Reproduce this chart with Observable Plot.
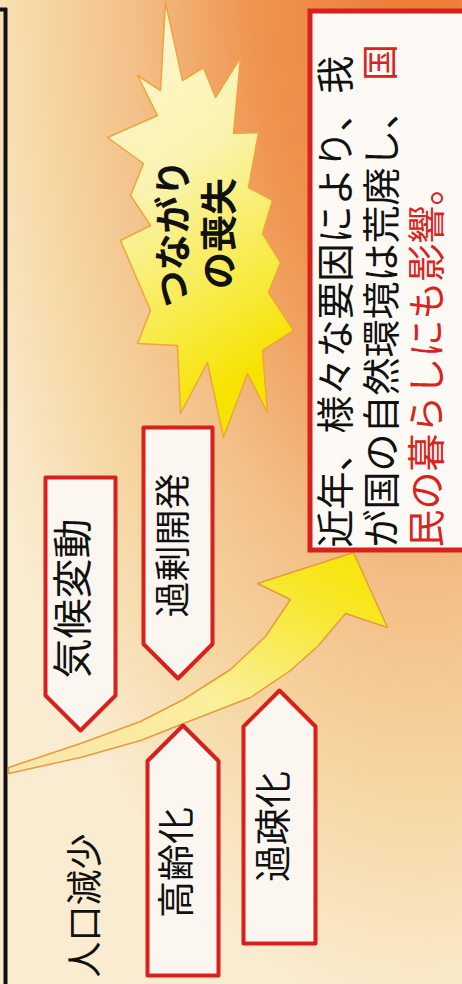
<!DOCTYPE html>
<html><head><meta charset="utf-8">
<script src="https://cdn.jsdelivr.net/npm/d3@7"></script>
<script src="https://cdn.jsdelivr.net/npm/@observablehq/plot@0.6"></script>
<style>html,body{margin:0;padding:0;background:#f8e3b8;overflow:hidden}</style>
</head><body><div id="chart"></div>
<script>
// ---- content ----
const mainLines = ["近年、様々な要因により、我", "が国の自然環境は荒廃し、", "民の暮らしにも影響。"];
const highlightChar = "国";
const burstLabels = ["つながり", "の喪失"];
const causeLabels = ["気候変動", "過剰開発", "高齢化", "過疎化"];
const plainLabel = "人口減少";

// ---- layout (pixel scale) ----
const mainLayout = [
  {x: 336, y: 547, color: "#111"},
  {x: 382, y: 547, color: "#111"},
  {x: 427, y: 547, color: "#d9231d"}
];
const causeBoxes = [
  {label: causeLabels[0], x0: 45, x1: 115, top: 477, bottom: 730, dir: "down", tx: 74, ty: 598, fs: 40},
  {label: causeLabels[1], x0: 143, x1: 212, top: 427, bottom: 678, dir: "down", tx: 174, ty: 545, fs: 36},
  {label: causeLabels[2], x0: 147, x1: 218, top: 725, bottom: 975, dir: "up", tx: 178, ty: 862, fs: 37},
  {label: causeLabels[3], x0: 243, x1: 315, top: 690, bottom: 943, dir: "up", tx: 275, ty: 826, fs: 37}
];
const burstPts = [[165,2],[182,80],[203,67],[215,97],[240,57],[233,133],[258,132],[248,187],[272,200],[262,233],[280,262],[268,292],[293,330],[262,350],[267,412],[247,373],[223,437],[207,362],[180,413],[177,345],[137,343],[150,310],[120,240],[150,225],[130,195],[143,163],[107,137],[157,115],[137,75],[160,90]];
const arrowPts = [[8,767],[80,743],[140,721],[183,699],[230,669],[265,636],[290,599],[257,583],[353,552],[387,627],[345,613],[318,645],[290,670],[250,697],[183,723],[140,740],[80,757],[8,773]];

function pentagon(b) {
  const c = (b.x0 + b.x1) / 2, h = (b.x1 - b.x0) / 2;
  if (b.dir === "down") return [[b.x0,b.top],[b.x1,b.top],[b.x1,b.bottom-h],[c,b.bottom],[b.x0,b.bottom-h]];
  return [[c,b.top],[b.x1,b.top+h],[b.x1,b.bottom],[b.x0,b.bottom],[b.x0,b.top+h]];
}
const boxPts = causeBoxes.flatMap((b, i) => pentagon(b).map(([x, y]) => ({x, y, z: i})));
const toRows = (pts, z) => pts.map(([x, y]) => ({x, y, z}));

const font = "'Noto Sans CJK JP', 'Noto Sans', sans-serif";

const plot = Plot.plot({
  width: 462, height: 984,
  margin: 0,
  x: {type: "identity", axis: null},
  y: {type: "identity", axis: null},
  style: {background: "transparent", fontFamily: font},
  marks: [
    Plot.rect([{x1: 0, x2: 462, y1: 0, y2: 984}], {x1: "x1", x2: "x2", y1: "y1", y2: "y2", fill: "url(#bg)"}),
    Plot.ruleX([5], {y1: 8, y2: 984, stroke: "#111", strokeWidth: 4}),
    Plot.ruleY([9], {x1: 0, x2: 7, stroke: "#111", strokeWidth: 4}),
    Plot.line(toRows(burstPts, 0), {x: "x", y: "y", z: "z", curve: "linear-closed", fill: "url(#burst)", stroke: "#f0a43c", strokeWidth: 1.5}),
    Plot.line(toRows(arrowPts, 0), {x: "x", y: "y", z: "z", curve: "linear-closed", fill: "url(#arrow)", stroke: "#e99a3a", strokeWidth: 1.5}),
    Plot.line(boxPts, {x: "x", y: "y", z: "z", curve: "linear-closed", fill: "#fbf6f0", stroke: "#d8201c", strokeWidth: 4}),
    Plot.rect([{x1: 310, x2: 475, y1: 11, y2: 550}], {x1: "x1", x2: "x2", y1: "y1", y2: "y2", fill: "#fdfaf6", stroke: "#d8201c", strokeWidth: 5}),
    Plot.text(causeBoxes, {x: "tx", y: "ty", text: "label", rotate: -90, fontSize: d => d.fs, fill: "#111", textAnchor: "middle", lineAnchor: "middle", fontFamily: font}),
    Plot.text([plainLabel], {x: 86, y: 905, text: d => d, rotate: -90, fontSize: 36, fill: "#111", textAnchor: "middle", lineAnchor: "middle", fontFamily: font}),
    Plot.text(burstLabels.map((t, i) => ({t, x: [175, 221][i], y: 233})), {x: "x", y: "y", text: "t", rotate: -90, fontSize: 37, fontWeight: "bold", fill: "#111", textAnchor: "middle", lineAnchor: "middle", fontFamily: font}),
    Plot.text(mainLines.map((t, i) => ({t, ...mainLayout[i]})), {x: "x", y: "y", text: "t", rotate: -90, fontSize: 38, fill: d => d.color, textAnchor: "start", lineAnchor: "middle", fontFamily: font}),
    Plot.text([highlightChar], {x: 382, y: 62, text: d => d, rotate: -90, fontSize: 37, fill: "#d9231d", textAnchor: "middle", lineAnchor: "middle", fontFamily: font})
  ]
});

// gradients
const defs = d3.select(plot).insert("defs", ":first-child");
const bg = defs.append("radialGradient").attr("id", "bg").attr("gradientUnits", "userSpaceOnUse")
  .attr("cx", 0).attr("cy", 0).attr("r", 1).attr("gradientTransform", "translate(420,-30) scale(480,1050)");
[[0,"#ec7a35"],[0.35,"#ef9450"],[0.6,"#f3c088"],[0.8,"#f6d8a6"],[1,"#faecd0"]].forEach(([o,c]) => bg.append("stop").attr("offset", o).attr("stop-color", c));
const burst = defs.append("linearGradient").attr("id", "burst").attr("x1", 0).attr("y1", 0).attr("x2", 0.3).attr("y2", 1);
[[0,"#fbf7d8"],[0.45,"#faf3b0"],[0.8,"#f8ea40"],[1,"#f6e300"]].forEach(([o,c]) => burst.append("stop").attr("offset", o).attr("stop-color", c));
const arrow = defs.append("linearGradient").attr("id", "arrow").attr("x1", 0).attr("y1", 1).attr("x2", 1).attr("y2", 0);
[[0,"#fbe6b0"],[0.45,"#faef9a"],[0.8,"#f8e72a"],[1,"#f7e300"]].forEach(([o,c]) => arrow.append("stop").attr("offset", o).attr("stop-color", c));

document.getElementById("chart").appendChild(plot);
</script>
</body></html>
